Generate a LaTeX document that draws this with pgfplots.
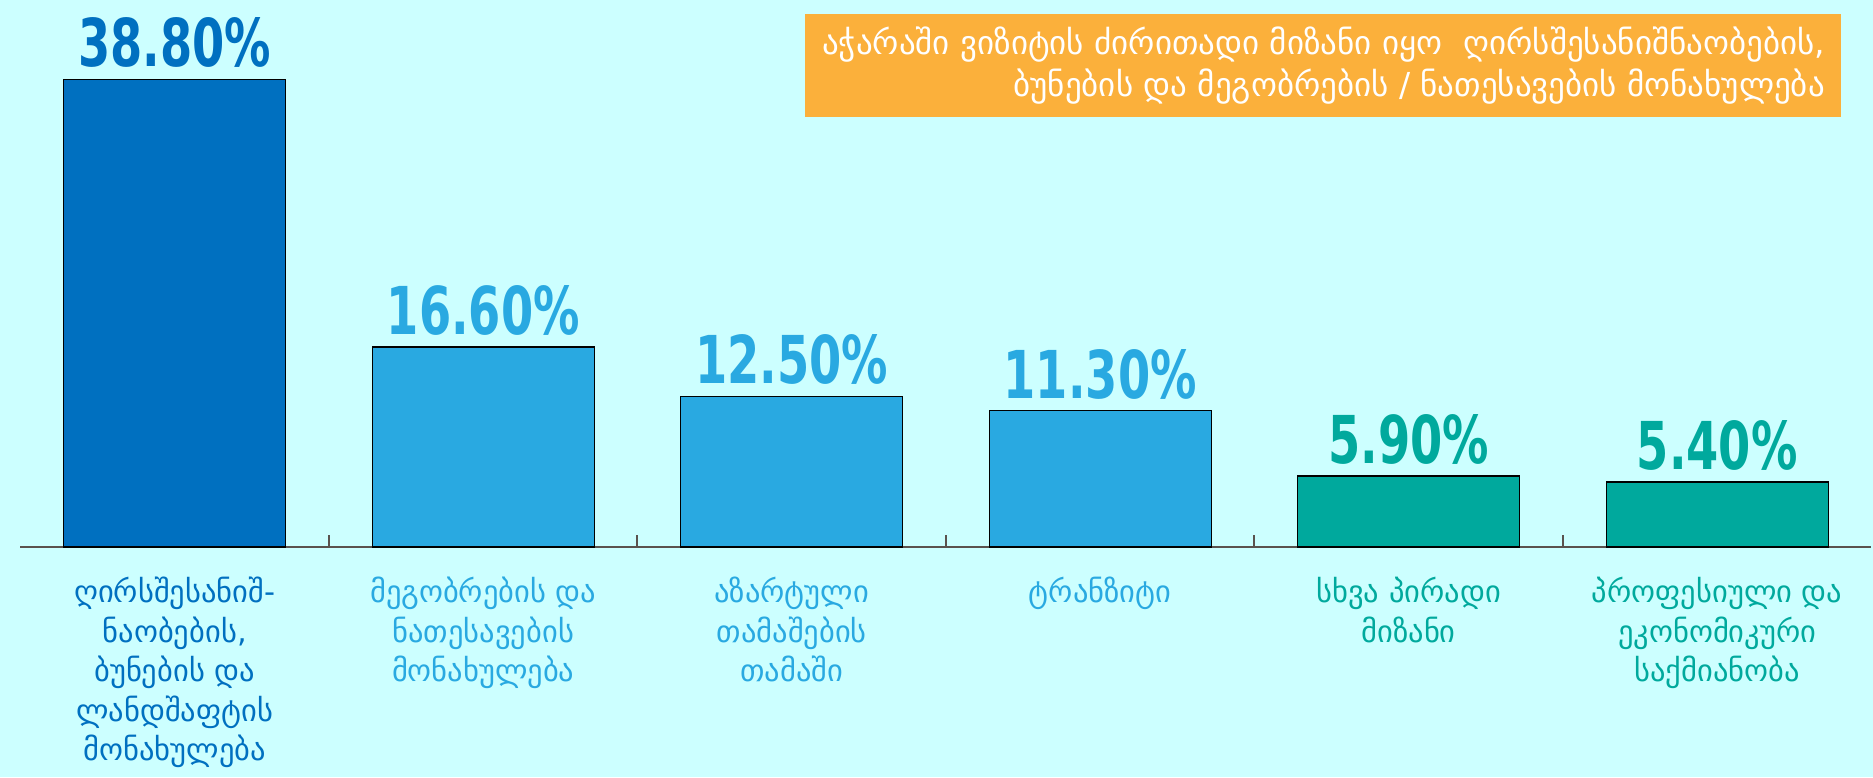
\documentclass[border=0pt]{standalone}
\usepackage{pgfplots}
\pgfplotsset{compat=1.18}
\usepackage{fontspec}
\setmainfont{DejaVu Sans}
\newfontfamily\numfont[FakeStretch=0.78]{DejaVu Sans Condensed Bold}
\newfontfamily\geofont[Script=Georgian]{DejaVu Sans}
\definecolor{bgc}{HTML}{CCFFFF}
\definecolor{cA}{HTML}{0070C0}
\definecolor{cB}{HTML}{29A9E1}
\definecolor{cC}{HTML}{00A99D}
\definecolor{cO}{HTML}{FBB03B}
\definecolor{axc}{HTML}{5A524E}
\begin{document}
\begin{tikzpicture}[x=1pt,y=1pt]
\fill[bgc] (0,0) rectangle (1873,777);
\path[use as bounding box] (0,0) rectangle (1873,777);
\begin{axis}[
  at={(20.5pt,230pt)}, anchor=south west,
  scale only axis, width=1851pt, height=547pt,
  xmin=-0.5, xmax=5.5, ymin=0, ymax=45.4,
  axis y line=none, axis x line*=bottom,
  x axis line style={draw=axc, line width=2pt},
  xtick={0,1,2,3,4,5},
  major x tick style={draw=none},
  xticklabels={
    {\color{cA}ღირსშესანიშ-\\\color{cA}ნაობების,\\\color{cA}ბუნების და\\\color{cA}ლანდშაფტის\\\color{cA}მონახულება},
    {\color{cB}მეგობრების და\\\color{cB}ნათესავების\\\color{cB}მონახულება},
    {\color{cB}აზარტული\\\color{cB}თამაშების\\\color{cB}თამაში},
    {\color{cB}ტრანზიტი},
    {\color{cC}სხვა პირადი\\\color{cC}მიზანი},
    {\color{cC}პროფესიული და\\\color{cC}ეკონომიკური\\\color{cC}საქმიანობა}},
  xticklabel style={font=\geofont\fontsize{30.5}{39.5}\selectfont, align=center, inner sep=0pt, yshift=-30pt},
  extra x ticks={0.5,1.5,2.5,3.5,4.5},
  extra x tick labels={},
  extra x tick style={tick align=inside, major tick length=12pt, major x tick style={draw=axc, line width=2pt}},
  clip=false,
  nodes near coords={\pgfmathprintnumber[fixed,fixed zerofill,precision=2,assume math mode=true]{\pgfplotspointmeta}\%},
  every node near coord/.append style={font=\numfont\fontsize{66}{70}\selectfont, anchor=south, inner sep=0pt, yshift=11pt},
]
\addplot[ybar, bar width=0.72, bar shift=0pt, fill=cA, draw=black, line width=1.2pt, every node near coord/.append style={text=cA}] coordinates {(0,38.8)};
\addplot[ybar, bar width=0.72, bar shift=0pt, fill=cB, draw=black, line width=1.2pt, every node near coord/.append style={text=cB}] coordinates {(1,16.6) (2,12.5) (3,11.3)};
\addplot[ybar, bar width=0.72, bar shift=0pt, fill=cC, draw=black, line width=1.2pt, every node near coord/.append style={text=cC}] coordinates {(4,5.9) (5,5.4)};
\end{axis}
\fill[cO] (805,660) rectangle (1841,763);
\node[anchor=east, align=right, text=white, inner sep=0pt, font=\geofont\fontsize{33}{42}\selectfont] at (1825,711.5) {აჭარაში ვიზიტის ძირითადი მიზანი იყო\ \ ღირსშესანიშნაობების,\\ბუნების და მეგობრების / ნათესავების მონახულება};
\end{tikzpicture}
\end{document}
